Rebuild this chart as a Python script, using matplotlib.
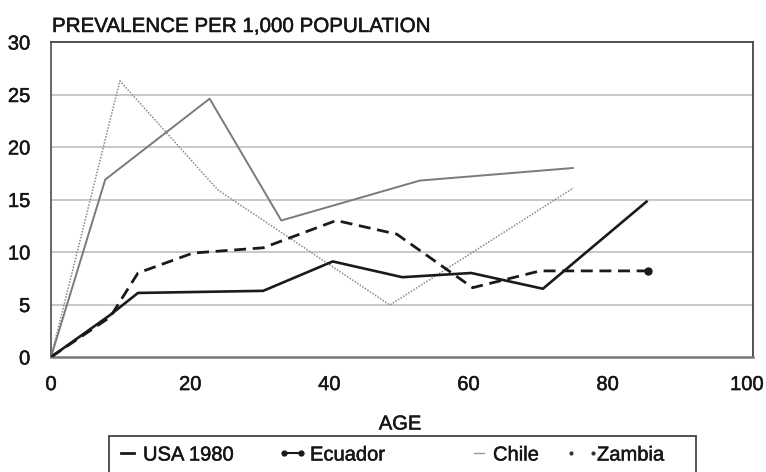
import matplotlib
matplotlib.use("Agg")
import matplotlib.pyplot as plt
import matplotlib.patheffects as pe
from matplotlib.lines import Line2D
from matplotlib.patches import Rectangle

plt.rcParams['font.family'] = ['Liberation Sans', 'DejaVu Sans']

# Data
usa_age = [0, 8.5, 12.5, 30.5, 40.5, 50.5, 60.4, 70.7, 85.6]
usa_val = [0, 4.0, 6.1, 6.3, 9.1, 7.6, 8.0, 6.5, 14.8]

ecu_age = [0, 8.5, 12.5, 20.4, 30.5, 41.0, 49.7, 60.6, 70.3, 85.8]
ecu_val = [0, 3.8, 8.0, 9.9, 10.4, 13.0, 11.7, 6.6, 8.2, 8.2]

chile_age = [0, 7.8, 22.8, 33.1, 53.0, 75.0]
chile_val = [0, 16.9, 24.6, 13.0, 16.8, 18.0]

zambia_age = [0, 9.9, 24.0, 48.7, 75.1]
zambia_val = [0, 26.3, 15.9, 4.95, 16.1]

labels = ["USA 1980", "Ecuador", "Chile", "Zambia"]
y_ticks = [0, 5, 10, 15, 20, 25, 30]
x_ticks = [0, 20, 40, 60, 80, 100]

W, H = 766, 472
FS = 14.5
TXT = '#161616'
heavy = [pe.withStroke(linewidth=0.35, foreground=TXT)]

fig = plt.figure(figsize=(W / 100, H / 100), dpi=100)
ax = fig.add_axes([51 / W, (H - 357) / H, 702 / W, 315 / H])

ax.set_xlim(0, 100.9)
ax.set_ylim(0, 30)

for y in y_ticks[1:-1]:
    ax.axhline(y, color='#c4c4c4', lw=1.3, zorder=1)

ax.plot(zambia_age, zambia_val, color='#8a8a8a', lw=1.1, linestyle=(0, (1, 1)), zorder=2)
ax.plot(chile_age, chile_val, color='#7a7a7a', lw=1.4, zorder=3)
ax.plot(ecu_age, ecu_val, color='#1a1a1a', lw=2.0, linestyle=(0, (4.3, 2.4)), zorder=4)
ax.plot(ecu_age[-1:], ecu_val[-1:], 'o', color='#1a1a1a', ms=5, zorder=5)
ax.plot(usa_age, usa_val, color='#1a1a1a', lw=1.9, zorder=5)

ax.set_xticks(x_ticks)
ax.set_yticks(y_ticks)
ax.tick_params(length=0, labelsize=FS, colors=TXT)
ax.tick_params(axis='y', pad=15)
ax.tick_params(axis='x', pad=13)
for t in ax.get_xticklabels() + ax.get_yticklabels():
    t.set_path_effects(heavy)

for s in ['top', 'right']:
    ax.spines[s].set_color('#444444')
    ax.spines[s].set_linewidth(1.3)
ax.spines['left'].set_color('#666666')
ax.spines['left'].set_linewidth(1.4)
ax.spines['bottom'].set_color('#777777')
ax.spines['bottom'].set_linewidth(1.8)

fig.text(52 / W, 1 - 32 / H, "PREVALENCE PER 1,000 POPULATION", fontsize=14.8,
         color=TXT, ha='left', va='baseline', path_effects=heavy)
fig.text(400 / W, 1 - 424 / H, "AGE", fontsize=FS, color=TXT,
         ha='center', va='center', path_effects=heavy)

handles = [
    Line2D([], [], color='#1a1a1a', lw=2.0),
    Line2D([], [], color='#1a1a1a', lw=1.5, marker='o', ms=3.5),
    Line2D([], [], color='#9a9a9a', lw=1.0),
    Line2D([], [], color='#333333', linestyle='none', marker='o', ms=2.0),
]
# (handle start px, handle length px, text pad px)
leg_pos = [(115, 25, 3), (278, 29, 3), (468, 22, 3), (565, 34, -2)]
pt_px = 100 / 72.0
for h, lab, (x0, hl, tp) in zip(handles, labels, leg_pos):
    em = FS * pt_px
    lg = fig.legend([h], [lab], loc='center left',
                    bbox_to_anchor=(x0 / W, 1 - 455 / H), frameon=False,
                    fontsize=FS, handlelength=hl / em, handletextpad=tp / em,
                    numpoints=2, borderaxespad=0, borderpad=0)
    for t in lg.get_texts():
        t.set_color(TXT)
        t.set_path_effects(heavy)

fig.patches.append(Rectangle((109 / W, -0.05), (696 - 109) / W, 0.05 + (H - 436) / H,
                             transform=fig.transFigure, fill=False,
                             edgecolor='#444444', lw=1.3))

fig.savefig("out.png", dpi=100)
